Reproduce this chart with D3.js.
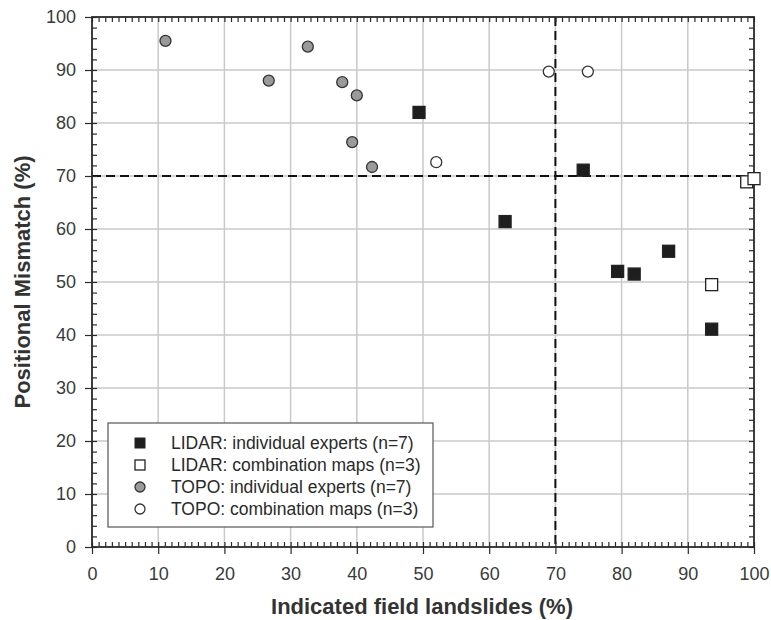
<!DOCTYPE html>
<html><head><meta charset="utf-8">
<script src="https://cdn.jsdelivr.net/npm/d3@7"></script>
<style>body{margin:0;background:#fff;} svg{display:block;font-family:"Liberation Sans",Arial,sans-serif;}</style>
</head><body>
<svg id="chart" width="771" height="620"></svg>
<script>
const lidarIndX = [49.4, 74.2, 62.4, 79.4, 81.9, 87.1, 93.6];
const lidarIndY = [82.0, 71.1, 61.4, 52.0, 51.5, 55.8, 41.1];
const lidarCombX = [93.6, 98.9, 100.0];
const lidarCombY = [49.5, 68.9, 69.5];
const topoIndX = [11.1, 26.7, 32.6, 37.8, 40.0, 39.3, 42.3];
const topoIndY = [95.5, 88.0, 94.4, 87.7, 85.2, 76.4, 71.7];
const topoCombX = [69.0, 74.9, 52.0];
const topoCombY = [89.7, 89.7, 72.6];
const xTicks = [0,10,20,30,40,50,60,70,80,90,100];
const yTicks = [0,10,20,30,40,50,60,70,80,90,100];
const thresholdX = 70, thresholdY = 70;
const legendLabels = ["LIDAR: individual experts (n=7)","LIDAR: combination maps (n=3)","TOPO: individual experts (n=7)","TOPO: combination maps (n=3)"];

const svg = d3.select("#chart");
const L = 92, R = 754, T = 17, B = 547;
const x = d3.scaleLinear().domain([0,100]).range([L,R]);
const y = d3.scaleLinear().domain([0,100]).range([B,T]);
const ink = "#2a2a2a";

// grid
const g = svg.append("g");
g.selectAll(".gx").data(xTicks.slice(1,-1)).enter().append("line")
  .attr("x1",d=>x(d)).attr("x2",d=>x(d)).attr("y1",T).attr("y2",B)
  .attr("stroke","#c9c9c9").attr("stroke-width",1.5);
g.selectAll(".gy").data(yTicks.slice(1,-1)).enter().append("line")
  .attr("y1",d=>y(d)).attr("y2",d=>y(d)).attr("x1",L).attr("x2",R)
  .attr("stroke","#c9c9c9").attr("stroke-width",1.5);

// threshold dashed lines
svg.append("line").attr("x1",x(thresholdX)).attr("x2",x(thresholdX)).attr("y1",T).attr("y2",B)
  .attr("stroke","#111").attr("stroke-width",2).attr("stroke-dasharray","9,5");
svg.append("line").attr("x1",L).attr("x2",R).attr("y1",y(thresholdY)).attr("y2",y(thresholdY))
  .attr("stroke","#111").attr("stroke-width",2).attr("stroke-dasharray","9,5");

// axes
const xMinor = d3.range(0,101,1);
const yMinor = d3.range(0,101,2);
function styleAxis(sel){
  sel.select(".domain").remove();
  sel.selectAll("line").attr("stroke",ink).attr("stroke-width",1.2);
  sel.selectAll("text").attr("fill","#3a3a3a").style("font-size","18px");
}
svg.append("g").attr("transform",`translate(0,${B})`)
  .call(d3.axisTop(x).tickValues(xMinor).tickSize(5).tickFormat("")).call(styleAxis);
svg.append("g").attr("transform",`translate(0,${B})`)
  .call(d3.axisBottom(x).tickValues(xTicks).tickSize(7).tickPadding(13).tickFormat(d3.format("d"))).call(styleAxis);
svg.append("g").attr("transform",`translate(0,${T})`)
  .call(d3.axisBottom(x).tickValues(xMinor).tickSize(5).tickFormat("")).call(styleAxis);
svg.append("g").attr("transform",`translate(${L},0)`)
  .call(d3.axisRight(y).tickValues(yMinor).tickSize(5).tickFormat("")).call(styleAxis);
svg.append("g").attr("transform",`translate(${L},0)`)
  .call(d3.axisLeft(y).tickValues(yTicks).tickSize(7).tickPadding(9).tickFormat(d3.format("d"))).call(styleAxis);
svg.append("g").attr("transform",`translate(${R},0)`)
  .call(d3.axisLeft(y).tickValues(yMinor).tickSize(5).tickFormat("")).call(styleAxis);

// frame
svg.append("rect").attr("x",L).attr("y",T).attr("width",R-L).attr("height",B-T)
  .attr("fill","none").attr("stroke",ink).attr("stroke-width",1.8);

// points
const S = 12, Rr = 5.5;
function squares(xs, ys, fill){
  svg.append("g").selectAll("rect").data(xs.map((v,i)=>[v,ys[i]])).enter().append("rect")
    .attr("x",d=>x(d[0])-S/2).attr("y",d=>y(d[1])-S/2).attr("width",S).attr("height",S)
    .attr("fill",fill).attr("stroke","#222").attr("stroke-width",1.3);
}
function circles(xs, ys, fill){
  svg.append("g").selectAll("circle").data(xs.map((v,i)=>[v,ys[i]])).enter().append("circle")
    .attr("cx",d=>x(d[0])).attr("cy",d=>y(d[1])).attr("r",Rr)
    .attr("fill",fill).attr("stroke","#333").attr("stroke-width",1.3);
}
circles(topoIndX, topoIndY, "#9a9a9a");
circles(topoCombX, topoCombY, "#fff");
squares(lidarIndX, lidarIndY, "#1e1e1e");
squares(lidarCombX, lidarCombY, "#fff");

// legend
const lg = svg.append("g");
lg.append("rect").attr("x",108).attr("y",423).attr("width",325).attr("height",104)
  .attr("fill","#fff").attr("stroke","#555").attr("stroke-width",1.2);
const rowY = [443,465,487,509];
lg.append("rect").attr("x",135).attr("y",rowY[0]-5).attr("width",10).attr("height",10).attr("fill","#1e1e1e").attr("stroke","#222");
lg.append("rect").attr("x",135).attr("y",rowY[1]-5).attr("width",10).attr("height",10).attr("fill","#fff").attr("stroke","#222").attr("stroke-width",1.3);
lg.append("circle").attr("cx",140).attr("cy",rowY[2]).attr("r",5).attr("fill","#9a9a9a").attr("stroke","#333").attr("stroke-width",1.3);
lg.append("circle").attr("cx",140).attr("cy",rowY[3]).attr("r",5).attr("fill","#fff").attr("stroke","#333").attr("stroke-width",1.3);
lg.selectAll("text").data(legendLabels).enter().append("text")
  .attr("x",171).attr("y",(d,i)=>rowY[i]).attr("dy","0.35em")
  .attr("fill","#2a2a2a").style("font-size","17.5px").text(d=>d);

// axis titles
svg.append("text").attr("x",422).attr("y",614).attr("text-anchor","middle")
  .style("font-size","22px").style("font-weight","bold").attr("fill","#333")
  .text("Indicated field landslides (%)");
svg.append("text").attr("transform",`translate(30,${(T+B)/2}) rotate(-90)`).attr("text-anchor","middle")
  .style("font-size","22px").style("font-weight","bold").attr("fill","#333")
  .text("Positional Mismatch (%)");
</script>
</body></html>
